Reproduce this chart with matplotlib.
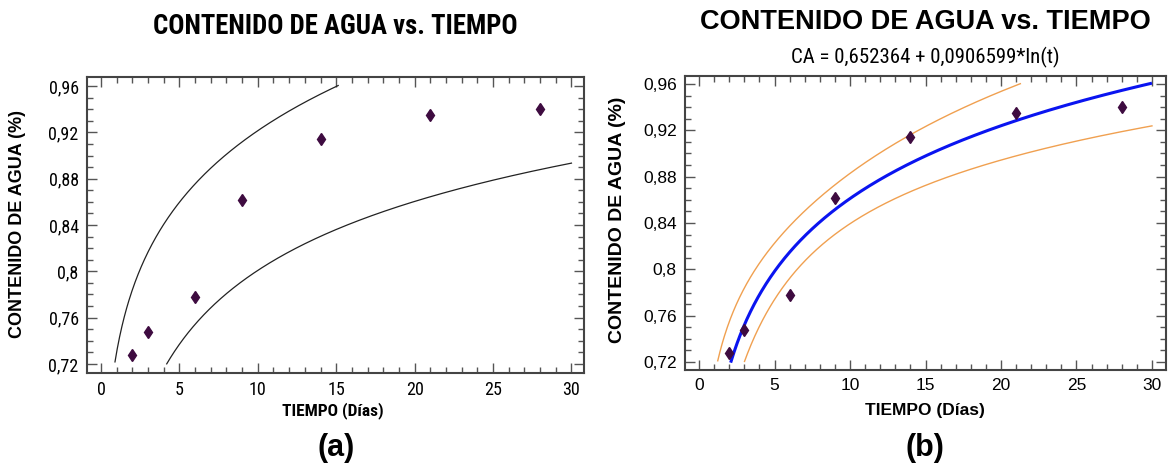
import numpy as np
import matplotlib
matplotlib.use("Agg")
import matplotlib.pyplot as plt
from matplotlib.ticker import MultipleLocator, FuncFormatter
from matplotlib import font_manager as fm
from matplotlib.font_manager import FontProperties

# ---- data ----
tiempo = np.array([2, 3, 6, 9, 14, 21, 28])
contenido = np.array([0.728, 0.748, 0.778, 0.862, 0.914, 0.935, 0.940])
# fitted model coefficients shown in the subtitle: CA = a + b*ln(t)
coef_a = 0.652364
coef_b = 0.0906599
x_ticks = [0, 5, 10, 15, 20, 25, 30]
y_ticks = [0.72, 0.76, 0.80, 0.84, 0.88, 0.92, 0.96]
titulo = "CONTENIDO DE AGUA vs. TIEMPO"
subtitulo = "CA = 0,652364 + 0,0906599*ln(t)"
ylabel = "CONTENIDO DE AGUA (%)"
xlabel = "TIEMPO (Días)"

# ---- regression statistics (95% limits) ----
lx = np.log(tiempo)
n = len(tiempo)
resid = contenido - (coef_a + coef_b * lx)
s = np.sqrt(np.sum(resid ** 2) / (n - 2))
sxx = np.sum((lx - lx.mean()) ** 2)
tcrit = 2.5706  # t(0.975, 5 df)
tg = np.linspace(0.5, 30, 600)
lg = np.log(tg)
fit = coef_a + coef_b * lg
se_mean = s * np.sqrt(1.0 / n + (lg - lx.mean()) ** 2 / sxx)
se_pred = s * np.sqrt(1.0 + 1.0 / n + (lg - lx.mean()) ** 2 / sxx)

def clip(y, lo=0.72, hi=0.9605):
    y = y.copy()
    y[(y < lo) | (y > hi)] = np.nan
    return y

# ---- fonts: look for a narrow (condensed) sans face ----
def _is_bold(w):
    if isinstance(w, str):
        return w.lower() in ("bold", "heavy", "black", "demibold", "semibold", "extra bold")
    return w >= 600

def find_narrow(bold):
    prefs = ["liberation sans narrow", "arial narrow", "roboto condensed",
             "open sans condensed", "noto sans", "open sans", "dejavu sans", "roboto"]
    cands = []
    for f in fm.fontManager.ttflist:
        nm = f.name.lower()
        narrow = ("narrow" in nm or "condensed" in nm or
                  f.stretch in ("condensed", "semi-condensed") or
                  "condensed" in f.fname.lower() or "narrow" in f.fname.lower())
        if not narrow:
            continue
        if _is_bold(f.weight) != bold:
            continue
        if f.style != "normal":
            continue
        if "extra" in f.fname.lower() or "semicondensed" in f.fname.lower().replace("-", "").replace("_", ""):
            continue
        rank = len(prefs)
        for i, p in enumerate(prefs):
            if nm.startswith(p):
                rank = i
                break
        cands.append((rank, f.fname))
    if cands:
        cands.sort()
        return cands[0][1]
    return None

REG = ["Liberation Sans", "DejaVu Sans"]
nb = find_narrow(True)
nr = find_narrow(False)

def narrow_prop(size, bold):
    p = nb if bold else nr
    if p:
        return FontProperties(fname=p, size=size)
    return FontProperties(family=REG, size=size * 0.9,
                          weight="bold" if bold else "normal")

fmt = FuncFormatter(lambda v, p: ("%g" % round(v, 2)).replace(".", ","))

W, H = 1170, 470
fig = plt.figure(figsize=(W / 100, H / 100), dpi=100)

def style(ax, xl, yl, labprop):
    ax.set_xlim(*xl)
    ax.set_ylim(*yl)
    ax.set_xticks(x_ticks)
    ax.set_yticks(y_ticks)
    ax.xaxis.set_minor_locator(MultipleLocator(1))
    ax.yaxis.set_minor_locator(MultipleLocator(0.01))
    ax.yaxis.set_major_formatter(fmt)
    ax.tick_params(which="both", direction="in", top=True, right=True,
                   color="#555555", width=1.0)
    ax.tick_params(which="major", length=7, pad=6)
    ax.tick_params(which="minor", length=4)
    for sp in ax.spines.values():
        sp.set_color("#444444")
        sp.set_linewidth(1.5)
    for lab in ax.get_xticklabels() + ax.get_yticklabels():
        lab.set_fontproperties(labprop)

# ---- panel (a) ----
ax1 = fig.add_axes([87 / W, 1 - 373 / H, 497 / W, 296 / H])
ax1.plot(tg, clip(fit + tcrit * se_pred), color="#222222", lw=0.9)
ax1.plot(tg, clip(fit - tcrit * se_pred), color="#222222", lw=0.9)
ax1.plot(tiempo, contenido, linestyle="none", marker="d", ms=6.5,
         color="#3e0b40", mec="#3e0b40")
style(ax1, (-0.89, 30.8), (0.7122, 0.9678), narrow_prop(13, False))
fig.text(335 / W, 1 - 27 / H, titulo, ha="center", va="center",
         fontproperties=narrow_prop(19.3, True))
fig.text(18 / W, 1 - 224 / H, ylabel, ha="center", va="center", rotation=90,
         fontsize=13, fontweight="bold", family=REG)
fig.text(333 / W, 1 - 411 / H, xlabel, ha="center", va="center",
         fontproperties=narrow_prop(12.5, True))
fig.text(336 / W, 1 - 448 / H, "(a)", ha="center", va="center",
         fontsize=22, fontweight="bold", family=REG)

# ---- panel (b) ----
ax2 = fig.add_axes([685 / W, 1 - 370 / H, 481 / W, 294 / H])
ax2.plot(tg, clip(fit + tcrit * se_mean), color="#f0a050", lw=1.0)
ax2.plot(tg, clip(fit - tcrit * se_mean), color="#f0a050", lw=1.0)
ax2.plot(tg, clip(fit), color="#0a14f0", lw=2.2)
ax2.plot(tiempo, contenido, linestyle="none", marker="d", ms=6.5,
         color="#3e0b40", mec="#3e0b40")
style(ax2, (-0.93, 30.93), (0.7131, 0.9669),
      FontProperties(family=REG, size=12.5))
fig.text(925 / W, 1 - 22 / H, titulo, ha="center", va="center",
         fontsize=19.5, fontweight="bold", family=REG)
fig.text(925 / W, 1 - 57 / H, subtitulo, ha="center", va="center",
         fontproperties=narrow_prop(15, False) if nr else FontProperties(family=REG, size=13))
fig.text(617 / W, 1 - 220 / H, ylabel, ha="center", va="center", rotation=90,
         fontsize=14, fontweight="bold", family=REG)
fig.text(925 / W, 1 - 410 / H, xlabel, ha="center", va="center",
         fontsize=12.5, fontweight="bold", family=REG)
fig.text(925 / W, 1 - 448 / H, "(b)", ha="center", va="center",
         fontsize=22, fontweight="bold", family=REG)

fig.savefig("out.png", dpi=100)
